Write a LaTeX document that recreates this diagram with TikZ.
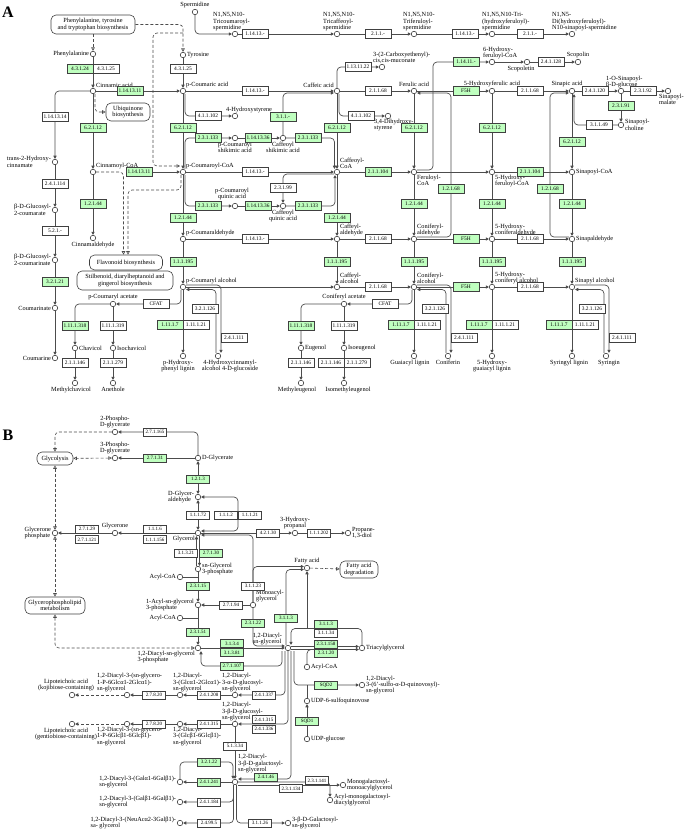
\documentclass[tikz,border=0pt]{standalone}
\usepackage{fontspec}
\setmainfont{Liberation Serif}
\usetikzlibrary{arrows.meta}
\pgfdeclarelayer{bg}
\pgfsetlayers{bg,main}
\definecolor{kgreen}{RGB}{191,255,191}
\tikzset{
  cpd/.style={circle,draw=black!75,fill=white,line width=0.6pt,minimum size=5.5pt,inner sep=0pt},
  lbl/.style={font=\fontsize{6.3}{6.4}\selectfont,inner sep=0.8pt,align=left},
  clbl/.style={lbl,align=center},
  enz/.style={draw=black!75,fill=white,line width=0.5pt,minimum width=26pt,minimum height=9pt,inner sep=0pt,font=\fontsize{5.4}{5.4}\selectfont},
  genz/.style={enz,fill=kgreen},
  benz/.style={enz,minimum width=23pt,minimum height=8pt,font=\fontsize{5}{5}\selectfont},
  gbenz/.style={benz,fill=kgreen},
  pmap/.style={draw=black!75,fill=white,line width=0.6pt,rounded corners=5pt,align=center,inner sep=1pt,font=\fontsize{6.3}{6.6}\selectfont},
  rl/.style={draw=black!70,line width=0.7pt,rounded corners=4pt},
  rx/.style={rl,->},
  rxx/.style={rl,<->},
  dlink/.style={rx,dash pattern=on 3pt off 2pt},
  link/.style={rl,line width=0.6pt,dash pattern=on 3pt off 2pt,-{Triangle[open,length=3.5pt,width=3.5pt]}},
  linkk/.style={link,{Triangle[open,length=3.5pt,width=3.5pt]}-{Triangle[open,length=3.5pt,width=3.5pt]}},
}
\begin{document}
\begin{tikzpicture}[x=1pt,y=-1pt,>={Triangle[length=3.2pt,width=3.2pt]}]
\useasboundingbox (0,0) rectangle (685,829);

% panel A
\node[font=\fontsize{16}{16}\selectfont\bfseries] (ltrA) at (8,12) {A};

\node[pmap,minimum width=84pt,minimum height=19pt] (pttb) at (93,24.5) {Phenylalanine, tyrosine\\and tryptophan biosynthesis};
\node[pmap,minimum width=44pt,minimum height=18pt] (ubq) at (128,112) {Ubiquinone\\biosynthesis};
\node[pmap,minimum width=73pt,minimum height=15pt] (flav) at (126,262.5) {Flavonoid biosynthesis};
\node[pmap,minimum width=96pt,minimum height=19pt] (stil) at (125,280.5) {Stilbenoid, diarylheptanoid and\\gingerol biosynthesis};

\node[cpd,label={[lbl]left:Phenylalanine}] (phe) at (93,54) {};
\node[cpd,label={[lbl]right:Tyrosine}] (tyr) at (183,55) {};
\node[cpd,label={[clbl]above:Spermidine}] (spd) at (195,12) {};
\node[cpd,label={[lbl,xshift=-25pt]above right:N1,N5,N10-\\Tricoumaroyl-\\spermidine}] (tcs) at (235,34) {};
\node[cpd,label={[lbl,xshift=-17pt]above right:N1,N5,N10-\\Tricaffeoyl-\\spermidine}] (tcafs) at (337,34) {};
\node[cpd,label={[lbl,xshift=-14pt]above right:N1,N5,N10-\\Triferuloyl-\\spermidine}] (tfs) at (414,34) {};
\node[cpd,label={[lbl,xshift=-13pt]above right:N1,N5,N10-Tri-\\(hydroxyferuloyl)-\\spermidine}] (thfs) at (492,34) {};
\node[cpd,label={[lbl,xshift=-23pt]above right:N1,N5-\\Di(hydroxyferuloyl)-\\N10-sinapoyl-spermidine}] (dhfs) at (572,34) {};
\node[cpd,label={[lbl]above right:Cinnamic acid}] (cin) at (93,91) {};
\node[cpd,label={[lbl]above right:p-Coumaric acid}] (pca) at (183,91) {};
\node[cpd,label={[lbl]left:trans-2-Hydroxy-\\cinnamate}] (t2h) at (55,162) {};
\node[cpd,label={[lbl]above right:Cinnamoyl-CoA}] (cincoa) at (93,172) {};
\node[cpd,label={[lbl]above right:p-Coumaroyl-CoA}] (pccoa) at (183,172) {};
\node[cpd,label={[lbl]above left:Caffeic acid}] (caf) at (337,91) {};
\node[cpd,label={[lbl,xshift=-12pt]above right:3-(2-Carboxyethenyl)-\\cis,cis-muconate}] (cmuc) at (382,67) {};
\node[cpd,label={[lbl,xshift=-12pt]above right:4-Hydroxystyrene}] (hst) at (235,116) {};
\node[cpd,label={[lbl,xshift=-17pt]below right:3,4-Dihydroxy-\\styrene}] (dhst) at (388,116) {};
\node[cpd,label={[clbl]above:Ferulic acid}] (fer) at (414,91) {};
\node[cpd,label={[clbl]below:p-Coumaroyl\\shikimic acid}] (pcs) at (235,138) {};
\node[cpd,label={[clbl]below:Caffeoyl\\shikimic acid}] (cafs) at (283,138) {};
\node[cpd,label={[lbl]above right:Caffeoyl-\\CoA}] (cafcoa) at (337,172) {};
\node[cpd,label={[lbl]below right:Feruloyl-\\CoA}] (fercoa) at (414,172) {};
\node[cpd,label={[lbl,xshift=-12pt]above right:6-Hydroxy-\\feruloyl-CoA}] (hfcoa6) at (492,62) {};
\node[cpd,label={[clbl,xshift=-6pt]below:Scopoletin}] (scpt) at (527,62) {};
\node[cpd,label={[clbl]above:Scopolin}] (scpn) at (578,62) {};
\node[cpd,label={[clbl]above:5-Hydroxyferulic acid}] (hfa) at (492,91) {};
\node[cpd,label={[clbl,xshift=-5pt]above:Sinapic acid}] (sin) at (572,91) {};
\node[cpd,label={[lbl,xshift=-18pt]above right:1-O-Sinapoyl-\\β-D-glucose}] (sglc) at (621,91) {};
\node[cpd,label={[lbl,xshift=-12pt]below right:Sinapoyl-\\malate}] (smal) at (668,91) {};
\node[cpd,label={[lbl]right:Sinapoyl-\\choline}] (scho) at (621,125) {};
\node[cpd,label={[lbl]below right:5-Hydroxy-\\feruloyl-CoA}] (hfcoa) at (492,172) {};
\node[cpd,label={[lbl]right:Sinapoyl-CoA}] (sincoa) at (572,172) {};
\node[cpd,label={[lbl]left:β-D-Glucosyl-\\2-coumarate}] (gcm) at (55,210) {};
\node[cpd,label={[clbl]below:Cinnamaldehyde}] (cald) at (93,238) {};
\node[cpd,label={[lbl]left:β-D-Glucosyl-\\2-coumarinate}] (gcmn) at (55,260) {};
\node[cpd,label={[lbl]left:Coumarinate}] (cmn) at (55,308) {};
\node[cpd,label={[lbl]left:Coumarine}] (cmr) at (55,358) {};
\node[cpd,label={[clbl,xshift=-3pt,yshift=2pt]above:p-Coumaroyl\\quinic acid}] (pcq) at (235,206) {};
\node[cpd,label={[clbl]below:Caffeoyl\\quinic acid}] (cafq) at (283,206) {};
\node[cpd,label={[lbl]above right:p-Coumaraldehyde}] (pcald) at (183,239) {};
\node[cpd,label={[lbl]above right:Caffeyl-\\aldehyde}] (cafald) at (337,239) {};
\node[cpd,label={[lbl]above right:Coniferyl-\\aldehyde}] (conald) at (414,239) {};
\node[cpd,label={[lbl]above right:5-Hydroxy-\\coniferaldehyde}] (hcald) at (492,239) {};
\node[cpd,label={[lbl]right:Sinapaldehyde}] (sinald) at (572,239) {};
\node[cpd,label={[lbl]above right:p-Coumaryl alcohol}] (pcalc) at (183,287) {};
\node[cpd,label={[lbl]above right:Caffeyl-\\alcohol}] (cafalc) at (337,287) {};
\node[cpd,label={[lbl]above right:Coniferyl-\\alcohol}] (conalc) at (414,287) {};
\node[cpd,label={[lbl]above right:5-Hydroxy-\\coniferyl alcohol}] (hcalc) at (492,287) {};
\node[cpd,label={[lbl]above right:Sinapyl alcohol}] (sinalc) at (572,287) {};
\node[cpd,label={[clbl]above:p-Coumaryl acetate}] (pcac) at (113,304) {};
\node[cpd,label={[clbl]above:Coniferyl acetate}] (conac) at (344,304) {};
\node[cpd,label={[lbl]right:Chavicol}] (chv) at (75,348) {};
\node[cpd,label={[lbl]right:Isochavicol}] (ichv) at (113,348) {};
\node[cpd,label={[lbl]right:Eugenol}] (eug) at (301,348) {};
\node[cpd,label={[lbl]right:Isoeugenol}] (ieug) at (344,348) {};
\node[cpd,label={[clbl,xshift=-4pt]below:Methylchavicol}] (mchv) at (75,383) {};
\node[cpd,label={[clbl]below:Anethole}] (ane) at (113,383) {};
\node[cpd,label={[clbl,xshift=-4pt]below:Methyleugenol}] (meug) at (301,383) {};
\node[cpd,label={[clbl,xshift=4pt]below:Isomethyleugenol}] (imeug) at (344,383) {};
\node[cpd,label={[clbl,xshift=-5pt]below:p-Hydroxy-\\phenyl lignin}] (phl) at (183,356) {};
\node[cpd,label={[clbl,xshift=12pt]below:4-Hydroxycinnamyl-\\alcohol 4-D-glucoside}] (hcg) at (218,356) {};
\node[cpd,label={[clbl,xshift=-4pt]below:Guaiacyl lignin}] (gl) at (414,356) {};
\node[cpd,label={[clbl]below:Coniferin}] (cfn) at (448,356) {};
\node[cpd,label={[clbl]below:5-Hydroxy-\\guaiacyl lignin}] (hgl) at (492,356) {};
\node[cpd,label={[clbl,xshift=-3pt]below:Syringyl lignin}] (syl) at (572,356) {};
\node[cpd,label={[clbl,xshift=3pt]below:Syringin}] (syr) at (606,356) {};
\coordinate (dj) at (183,33);
\coordinate (pcin) at (180,166);

\node[genz] (a1) at (80,69) {4.3.1.24};
\node[enz] (a2) at (106,69) {4.3.1.25};
\node[enz] (a3) at (183,69) {4.3.1.25};
\node[genz] (a4) at (130,91) {1.14.13.11};
\node[enz] (a5) at (55,117) {1.14.13.14};
\node[genz] (a6) at (93,128) {6.2.1.12};
\node[genz] (a7) at (139,172) {1.14.13.11};
\node[enz] (a8) at (55,184) {2.4.1.114};
\node[enz] (a9) at (255,34) {1.14.13.-};
\node[enz] (a10) at (378,34) {2.1.1.-};
\node[enz] (a11) at (465,34) {1.14.13.-};
\node[enz] (a12) at (530,34) {2.1.1.-};
\node[enz] (a13) at (358,67) {1.13.11.22};
\node[enz] (a14) at (255,91) {1.14.13.-};
\node[enz] (a15) at (378,91) {2.1.1.68};
\node[enz] (a16) at (208,116) {4.1.1.102};
\node[enz] (a17) at (361,116) {4.1.1.102};
\node[genz] (a18) at (183,128) {6.2.1.12};
\node[genz] (a19) at (337,128) {6.2.1.12};
\node[genz] (a20) at (414,128) {6.2.1.12};
\node[genz] (a21) at (283,117) {3.1.1.-};
\node[genz] (a22) at (208,138) {2.3.1.133};
\node[genz] (a23) at (258,138) {1.14.13.36};
\node[genz] (a24) at (308,138) {2.3.1.133};
\node[enz] (a25) at (255,172) {1.14.13.-};
\node[genz] (a26) at (378,172) {2.1.1.104};
\node[genz] (a27) at (466,62) {1.14.11.-};
\node[enz] (a28) at (551,62) {2.4.1.128};
\node[genz] (a29) at (466,91) {F5H};
\node[enz] (a30) at (530,91) {2.1.1.68};
\node[enz] (a31) at (595,91) {2.4.1.120};
\node[enz] (a32) at (643,91) {2.3.1.92};
\node[genz] (a33) at (621,106) {2.3.1.91};
\node[enz] (a34) at (599,125) {3.1.1.49};
\node[genz] (a35) at (492,128) {6.2.1.12};
\node[genz] (a36) at (572,142) {6.2.1.12};
\node[genz] (a37) at (530,172) {2.1.1.104};
\node[genz] (a38) at (451,189) {1.2.1.68};
\node[genz] (a39) at (550,189) {1.2.1.68};
\node[enz] (a40) at (283,188) {2.3.1.99};
\node[genz] (a41) at (93,204) {1.2.1.44};
\node[enz] (a42) at (55,231) {5.2.1.-};
\node[genz] (a43) at (55,282) {3.2.1.21};
\node[genz] (a44) at (183,218) {1.2.1.44};
\node[genz] (a45) at (208,206) {2.3.1.133};
\node[genz] (a46) at (258,206) {1.14.13.36};
\node[genz] (a47) at (308,206) {2.3.1.133};
\node[genz] (a48) at (337,218) {1.2.1.44};
\node[genz] (a49) at (414,204) {1.2.1.44};
\node[genz] (a50) at (492,204) {1.2.1.44};
\node[genz] (a51) at (572,204) {1.2.1.44};
\node[enz] (a52) at (255,239) {1.14.13.-};
\node[enz] (a53) at (378,239) {2.1.1.68};
\node[genz] (a54) at (466,239) {F5H};
\node[enz] (a55) at (530,239) {2.1.1.68};
\node[genz] (a56) at (183,262) {1.1.1.195};
\node[genz] (a57) at (337,262) {1.1.1.195};
\node[genz] (a58) at (414,262) {1.1.1.195};
\node[genz] (a59) at (492,262) {1.1.1.195};
\node[genz] (a60) at (572,262) {1.1.1.195};
\node[enz] (a61) at (378,287) {2.1.1.68};
\node[genz] (a62) at (466,287) {F5H};
\node[enz] (a63) at (530,287) {2.1.1.68};
\node[enz] (a64) at (156,304) {CFAT};
\node[enz] (a65) at (385,304) {CFAT};
\node[genz] (a66) at (75,326) {1.11.1.318};
\node[enz] (a67) at (113,326) {1.11.1.319};
\node[genz] (a68) at (301,326) {1.11.1.318};
\node[enz] (a69) at (344,326) {1.11.1.319};
\node[genz] (a70) at (170,325) {1.11.1.7};
\node[enz] (a71) at (196,325) {1.11.1.21};
\node[genz] (a72) at (401,325) {1.11.1.7};
\node[enz] (a73) at (427,325) {1.11.1.21};
\node[genz] (a74) at (479,325) {1.11.1.7};
\node[enz] (a75) at (505,325) {1.11.1.21};
\node[genz] (a76) at (559,325) {1.11.1.7};
\node[enz] (a77) at (585,325) {1.11.1.21};
\node[enz] (a78) at (205,309) {3.2.1.126};
\node[enz] (a79) at (435,309) {3.2.1.126};
\node[enz] (a80) at (592,309) {3.2.1.126};
\node[enz] (a81) at (234,338) {2.4.1.111};
\node[enz] (a82) at (464,338) {2.4.1.111};
\node[enz] (a83) at (622,338) {2.4.1.111};
\node[enz] (a84) at (75,363) {2.1.1.146};
\node[enz] (a85) at (113,363) {2.1.1.279};
\node[enz] (a86) at (301,363) {2.1.1.146};
\node[enz] (a87) at (331,363) {2.1.1.146};
\node[enz] (a88) at (357,363) {2.1.1.279};

% panel B
\node[font=\fontsize{16}{16}\selectfont\bfseries] (ltrB) at (8,435) {B};

\node[pmap,minimum width=36pt,minimum height=13pt] (glyco) at (55,458.5) {Glycolysis};
\node[pmap,minimum width=60pt,minimum height=17pt] (gplm) at (55,605.5) {Glycerophospholipid\\metabolism};
\node[pmap,minimum width=38pt,minimum height=17pt] (fadeg) at (359,569.5) {Fatty acid\\degradation};

\node[cpd,label={[clbl]above:2-Phospho-\\D-glycerate}] (pg2) at (115,432) {};
\node[cpd,label={[clbl]above:3-Phospho-\\D-glycerate}] (pg3) at (115,458) {};
\node[cpd,label={[lbl]right:D-Glycerate}] (dgly) at (198,458) {};
\node[cpd,label={[lbl]left:D-Glycer-\\aldehyde}] (dgla) at (198,497) {};
\node[cpd,label={[lbl]below left:Glycerol}] (glyc) at (198,533) {};
\node[cpd,label={[lbl]left:Glycerone\\phosphate}] (gp) at (55,533) {};
\node[cpd,label={[clbl]above:Glycerone}] (gln) at (115,533) {};
\node[cpd,label={[clbl]above:3-Hydroxy-\\propanal}] (hpp) at (295,533) {};
\node[cpd,label={[lbl]right:Propane-\\1,3-diol}] (pdo) at (348,533) {};
\node[cpd,label={[lbl]right:sn-Glycerol\\3-phosphate}] (g3p) at (198,569) {};
\node[cpd,label={[lbl]left:Acyl-CoA}] (acoa1) at (180,577) {};
\node[cpd,label={[clbl]above:Fatty acid}] (fa) at (307,568) {};
\node[cpd,label={[lbl]left:1-Acyl-sn-glycerol\\3-phosphate}] (lpa) at (198,605) {};
\node[cpd,label={[lbl]left:Acyl-CoA}] (acoa2) at (180,618) {};
\node[cpd,label={[lbl]above right:Monoacyl-\\glycerol}] (mag) at (253,605) {};
\node[cpd,label={[lbl]below left:1,2-Diacyl-sn-glycerol\\3-phosphate}] (pa) at (198,648) {};
\node[cpd,label={[lbl,xshift=-3pt]above left:1,2-Diacyl-\\sn-glycerol}] (dag) at (288,648) {};
\node[cpd,label={[lbl]right:Triacylglycerol}] (tag) at (362,648) {};
\node[cpd,label={[lbl]right:Acyl-CoA}] (acoa3) at (307,667) {};
\node[cpd,label={[lbl]right:1,2-Diacyl-\\3-(6'-sulfo-α-D-quinovosyl)-\\sn-glycerol}] (sqdg) at (362,685) {};
\node[cpd,label={[lbl]right:UDP-6-sulfoquinovose}] (udpsq) at (307,701) {};
\node[cpd,label={[lbl]right:UDP-glucose}] (udpg) at (307,739) {};
\node[cpd,label={[lbl,xshift=-16pt]above right:1,2-Diacyl-\\3-α-D-glucosyl-\\sn-glycerol}] (glcdag) at (235,695) {};
\node[cpd,label={[lbl,xshift=-10pt]above right:1,2-Diacyl-\\3-(Glcα1-2Glcα1)-\\sn-glycerol}] (gg2) at (180,695) {};
\node[cpd,label={[lbl,xshift=-33pt]above right:1,2-Diacyl-3-(sn-glycero-\\1-P-6Glcα1-2Glcα1)-\\sn-glycerol}] (gpgg2) at (127,695) {};
\node[cpd,label={[clbl,xshift=-6pt]above:Lipoteichoic acid\\(kojibiose-containing)}] (lta1) at (72,695) {};
\node[cpd,label={[lbl,xshift=-16pt]above right:1,2-Diacyl-\\3-β-D-glucosyl-\\sn-glycerol}] (bglcdag) at (235,724) {};
\node[cpd,label={[lbl,xshift=-10pt]below right:1,2-Diacyl-\\3-(Glcβ1-6Glcβ1)-\\sn-glycerol}] (gg6) at (180,724) {};
\node[cpd,label={[lbl,xshift=-33pt]below right:1,2-Diacyl-3-(sn-glycero-\\1-P-6Glcβ1-6Glcβ1)-\\sn-glycerol}] (gpgg6) at (127,724) {};
\node[cpd,label={[clbl,xshift=-6pt]below:Lipoteichoic acid\\(gentiobiose-containing)}] (lta2) at (72,724) {};
\node[cpd,label={[lbl,yshift=6pt]above right:1,2-Diacyl-\\3-β-D-galactosyl-\\sn-glycerol}] (mgdg) at (235,782) {};
\node[cpd,label={[lbl]right:Monogalactosyl-\\monoacylglycerol}] (mgmg) at (343,785) {};
\node[cpd,label={[lbl]right:Acyl-monogalactosyl-\\diacylglycerol}] (amgdg) at (330,800) {};
\node[cpd,label={[lbl]left:1,2-Diacyl-3-(Galα1-6Galβ1)-\\sn-glycerol}] (dgdg) at (180,782) {};
\node[cpd,label={[lbl]left:1,2-Diacyl-3-(Galβ1-6Galβ1)-\\sn-glycerol}] (gg66) at (180,802) {};
\node[cpd,label={[lbl]left:1,2-Diacyl-3-(NeuAcα2-3Galβ1)-\\sa- glycerol}] (neu) at (180,823) {};
\node[cpd,label={[lbl]right:3-β-D-Galactosyl-\\sn-glycerol}] (galg) at (288,823) {};
\coordinate (tj) at (307,628.5);
\coordinate (aj) at (318,649.5);

\node[benz] (b1) at (155,432) {2.7.1.165};
\node[gbenz] (b2) at (155,458) {2.7.1.31};
\node[gbenz] (b3) at (198,479) {1.2.1.3};
\node[benz] (b4) at (198,515) {1.1.1.72};
\node[benz] (b5) at (226,515) {1.1.1.2};
\node[benz] (b6) at (250,515) {1.1.1.21};
\node[benz] (b7) at (87,529) {2.7.1.29};
\node[benz] (b8) at (87,539.5) {2.7.1.121};
\node[benz] (b9) at (155,529) {1.1.1.6};
\node[benz] (b10) at (155,539.5) {1.1.1.156};
\node[benz] (b11) at (268,533) {4.2.1.30};
\node[benz] (b12) at (319,533) {1.1.1.202};
\node[benz] (b13) at (186,553) {3.1.3.21};
\node[gbenz] (b14) at (211,553) {2.7.1.30};
\node[gbenz] (b15) at (198,586) {2.3.1.15};
\node[benz] (b16) at (253,586) {3.1.1.23};
\node[benz] (b17) at (231,605) {2.7.1.94};
\node[gbenz] (b18) at (198,632) {2.3.1.51};
\node[gbenz] (b19) at (253,623) {2.3.1.22};
\node[gbenz] (b20) at (286,618) {3.1.1.3};
\node[gbenz] (b21) at (232,643.5) {3.1.3.4};
\node[gbenz] (b22) at (232,652.5) {3.1.3.81};
\node[gbenz] (b23) at (232,666) {2.7.1.107};
\node[gbenz] (b24) at (326,624) {3.1.1.3};
\node[benz] (b25) at (326,633) {3.1.1.34};
\node[gbenz] (b26) at (326,644) {2.3.1.158};
\node[gbenz] (b27) at (326,653) {2.3.1.20};
\node[gbenz] (b28) at (326,685) {SQD2};
\node[gbenz] (b29) at (307,721) {SQD1};
\node[benz] (b30) at (264,695) {2.4.1.337};
\node[benz] (b31) at (209,695) {2.4.1.208};
\node[benz] (b32) at (154,695) {2.7.8.20};
\node[benz] (b33) at (264,719.5) {2.4.1.315};
\node[benz] (b34) at (264,729) {2.4.1.336};
\node[benz] (b35) at (209,724) {2.4.1.315};
\node[benz] (b36) at (154,724) {2.7.8.20};
\node[benz] (b37) at (235,746) {5.1.3.34};
\node[gbenz] (b38) at (266,777) {2.4.1.46};
\node[benz] (b39) at (317,780.5) {2.3.1.141};
\node[benz] (b40) at (291,788.5) {2.3.1.134};
\node[gbenz] (b41) at (209,762) {3.2.1.22};
\node[gbenz] (b42) at (209,782) {2.4.1.241};
\node[benz] (b43) at (209,802) {2.4.1.184};
\node[benz] (b44) at (209,823) {2.4.99.5};
\node[benz] (b45) at (260,823) {3.1.1.26};

\begin{pgfonlayer}{bg}
% A connectors
\draw[link] (pttb) -- (phe);
\draw[link] (pttb) -| (tyr);
\draw[link] (dj) -| (153,120) |- (pcin);
\draw[link] ([xshift=2pt]cin.south) |- (ubq);
\draw[link] (cincoa) -| ([xshift=-2.5pt]flav.north);
\draw[link] ([xshift=-2pt]pccoa.south) |- (128,190) -- ([xshift=2pt]flav.north);
\draw[rx] (phe) -- (cin);
\draw[rx] (tyr) -- (pca);
\draw[rx] (cin) -- (pca);
\draw[rx] (cin) -| (t2h);
\draw[rx] (cin) -- (cincoa);
\draw[rx] (a7) -- (pccoa);
\draw[rx] (t2h) -- (gcm);
\draw[rx] (gcm) -- (gcmn);
\draw[rx] (gcmn) -- (cmn);
\draw[rx] (cmn) -- (cmr);
\draw[rx] (cincoa) -- (cald);
\draw[rx] (spd) |- (tcs);
\draw[rx] (tcs) -- (tcafs);
\draw[rx] (tcafs) -- (tfs);
\draw[rx] (tfs) -- (thfs);
\draw[rx] (thfs) -- (dhfs);
\draw[rx] (pca) -- (caf);
\draw[rx] ([xshift=2pt]pca.south) |- (hst);
\draw[rx] (pca) -- (pccoa);
\draw[rx] ([xshift=2pt]pccoa.north) |- (pcs);
\draw[rx] (pcs) -- (cafs);
\draw[rx] (cafs) |- ([yshift=-2pt]caf.west);
\draw[rx] (cafs) -| ([xshift=-2.5pt]cafcoa.north);
\draw[rx] (caf) -- (cafcoa);
\draw[rx] (caf) |- (cmuc);
\draw[rx] ([xshift=2pt]caf.south) |- (dhst);
\draw[rx] (caf) -- (fer);
\draw[rx] (fer) -- (fercoa);
\draw[rx] (pccoa) -- (cafcoa);
\draw[rx] (cafcoa) -- (fercoa);
\draw[rx] ([yshift=2pt]fercoa.east) -| (433,80) |- (hfcoa6);
\draw[rx] (fercoa) -- (hfcoa);
\draw[rx] (hfcoa6) -- (scpt);
\draw[rx] (scpt) -- (scpn);
\draw[rx] (fer) -- (hfa);
\draw[rx] (hfa) -- (sin);
\draw[rx] (sin) -- (sglc);
\draw[rx] (sglc) -- (smal);
\draw[rx] (sglc) -- (scho);
\draw[rx] (scho) -| ([xshift=2pt]sin.south);
\draw[rx] (hfa) -- (hfcoa);
\draw[rx] (sin) -- (sincoa);
\draw[rx] (hfcoa) -- (sincoa);
\draw[rx] (fercoa) -- (conald);
\draw[rx] (hfcoa) -- (hcald);
\draw[rx] (sincoa) -- (sinald);
\draw[rx] ([yshift=2pt]conald.east) -| (451,120) |- ([yshift=-2pt]fer.east);
\draw[rx] ([yshift=2pt]sinald.west) -| (550,120) |- ([yshift=-2pt]sin.west);
\draw[rx] ([xshift=2pt]pccoa.south) |- (pcq);
\draw[rx] (pccoa) -- (pcald);
\draw[rx] (pcq) -- (cafq);
\draw[rx] (cafq) -| ([xshift=-2pt]cafcoa.south);
\draw[rx] ([yshift=-2pt]cafcoa.west) -| (cafq);
\draw[rx] (cafcoa) -- (cafald);
\draw[rx] (pcald) -- (cafald);
\draw[rx] (cafald) -- (conald);
\draw[rx] (conald) -- (hcald);
\draw[rx] (hcald) -- (sinald);
\draw[rx] (pcald) -- (pcalc);
\draw[rx] (cafald) -- (cafalc);
\draw[rx] (conald) -- (conalc);
\draw[rx] (hcald) -- (hcalc);
\draw[rx] (sinald) -- (sinalc);
\draw[rx] (pcalc) -- (cafalc);
\draw[rx] (cafalc) -- (conalc);
\draw[rx] (conalc) -- (hcalc);
\draw[rx] (hcalc) -- (sinalc);
\draw[rx] ([xshift=-2pt]pcalc.south) |- (pcac);
\draw[rx] (pcac) -| (chv);
\draw[rx] (pcac) -- (ichv);
\draw[rx] (chv) -- (mchv);
\draw[rx] (ichv) -- (ane);
\draw[rx] ([xshift=-2pt]conalc.south) |- (conac);
\draw[rx] (conac) -| (eug);
\draw[rx] (conac) -- (ieug);
\draw[rx] (eug) -- (meug);
\draw[rx] (ieug) -- (imeug);
\draw[rx] (pcalc) -- (phl);
\draw[rx] (conalc) -- (gl);
\draw[rx] (hcalc) -- (hgl);
\draw[rx] (sinalc) -- (syl);
\draw[rx] ([yshift=2pt]pcalc.east) -| ([xshift=3pt]hcg.north);
\draw[rx] ([xshift=-2pt]hcg.north) |- ([yshift=-2.5pt]pcalc.east);
\draw[rx] ([yshift=2pt]conalc.east) -| ([xshift=3pt]cfn.north);
\draw[rx] ([xshift=-2pt]cfn.north) |- ([yshift=-2.5pt]conalc.east);
\draw[rx] ([yshift=2pt]sinalc.east) -| ([xshift=3pt]syr.north);
\draw[rx] ([xshift=-2pt]syr.north) |- ([yshift=-2.5pt]sinalc.east);

% B connectors
\draw[link] (pg2) -| (glyco);
\draw[linkk] (pg3) -- (glyco);
\draw[linkk] (glyco) -- (gp);
\draw[linkk] (gp) -- (gplm);
\draw[linkk] (gplm) |- (pa);
\draw[link] (fa) -- (fadeg);
\draw[rx] (dgly) |- (pg2);
\draw[rx] (dgly) -- (pg3);
\draw[rxx] (dgla) -- (dgly);
\draw[rxx] (dgla) -- (glyc);
\draw[rxx] (dgla) -| (238,520) |- ([yshift=2pt]glyc.east);
\draw[rx] (glyc) -- (gln);
\draw[rx] (gln) -- (gp);
\draw[rx] (glyc) -- (hpp);
\draw[rx] (hpp) -- (pdo);
\draw[rx] ([xshift=-1.5pt]g3p.north) -- ([xshift=-1.5pt]glyc.south);
\draw[rx] ([xshift=1.5pt]glyc.south) -- ([xshift=1.5pt]g3p.north);
\draw[rx] (mag) |- ([yshift=-2pt]glyc.east);
\draw[rx] (mag) |- ([yshift=1.5pt]fa.west);
\draw[rx] (g3p) -- (lpa);
\draw[rl] (acoa1) -- (acoa1 -| g3p);
\draw[rx] (lpa) -- (pa);
\draw[rl] (acoa2) -- (acoa2 -| lpa);
\draw[rx] (mag) -- (lpa);
\draw[rx] (mag) |- ([yshift=2pt]dag.west);
\draw[rx] (pa) -- (dag);
\draw[rx] ([xshift=-6pt]dag.south) |- (201,666) -- ([xshift=3pt]pa.south);
\draw[rx] ([xshift=-2pt]dag.north) |- ([yshift=-1.5pt]fa.west);
\draw[rx] ([yshift=1.5pt]dag.east) -- ([yshift=1.5pt]tag.west);
\draw[rx] ([yshift=-1.5pt]dag.east) -- ([yshift=-1.5pt]tag.west);
\draw[rx] (tag) |- (291,628.5) -- ([xshift=3pt]dag.north);
\draw[rx] (tj) -- (fa);
\draw[rl] (acoa3) |- (aj);
\draw[rx] ([xshift=6pt]dag.south) |- (sqdg);
\draw[rl] (udpsq) -- (udpsq |- sqdg);
\draw[rx] (udpg) -- (udpsq);
\draw[rx] ([xshift=-3pt]dag.south) |- (glcdag);
\draw[rx] (glcdag) -- (gg2);
\draw[rx] (gg2) -- (gpgg2);
\draw[dlink] (gpgg2) -- (lta1);
\draw[rx] (dag.south) |- (bglcdag);
\draw[rx] (bglcdag) -- (gg6);
\draw[rx] (gg6) -- (gpgg6);
\draw[dlink] (gpgg6) -- (lta2);
\draw[rx] (bglcdag) -- (mgdg);
\draw[rx] ([xshift=3pt]dag.south) |- ([yshift=3pt]mgdg.east);
\draw[rx] (mgdg) -| (amgdg);
\draw[rx] ([yshift=-3pt]mgdg.east) -- (mgmg);
\draw[rx] (mgdg) -- (dgdg);
\draw[rx] (dgdg) |- (233,762) -- ([xshift=-2pt]mgdg.north);
\draw[rx] ([xshift=-1.5pt]mgdg.south) |- (gg66);
\draw[rx] ([xshift=-1.5pt]mgdg.south) |- (neu);
\draw[rx] ([xshift=1.5pt]mgdg.south) |- (galg);
\end{pgfonlayer}
\end{tikzpicture}
\end{document}
